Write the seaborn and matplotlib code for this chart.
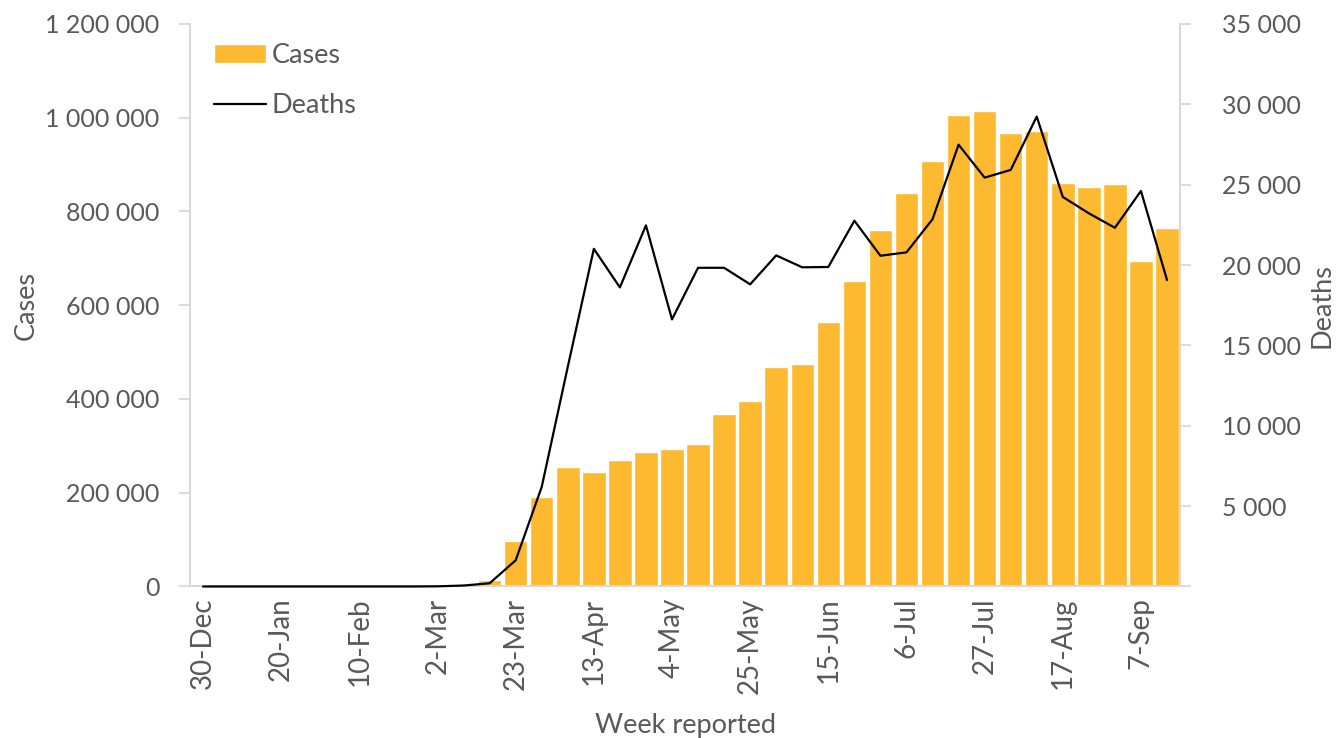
import matplotlib
matplotlib.use("Agg")
import matplotlib.pyplot as plt
import matplotlib.ticker as mticker
import numpy as np
import pandas as pd
import seaborn as sns

# weekly data, 30-Dec to 14-Sep
weeks = ["30-Dec", "6-Jan", "13-Jan", "20-Jan", "27-Jan", "3-Feb", "10-Feb", "17-Feb",
         "24-Feb", "2-Mar", "9-Mar", "16-Mar", "23-Mar", "30-Mar", "6-Apr", "13-Apr",
         "20-Apr", "27-Apr", "4-May", "11-May", "18-May", "25-May", "1-Jun", "8-Jun",
         "15-Jun", "22-Jun", "29-Jun", "6-Jul", "13-Jul", "20-Jul", "27-Jul", "3-Aug",
         "10-Aug", "17-Aug", "24-Aug", "31-Aug", "7-Sep", "14-Sep"]

cases = [0, 0, 0, 0, 0, 0, 0, 0,
         0, 0, 0, 13000, 97000, 190000, 254000, 244000,
         269000, 286000, 293000, 305000, 369000, 396000, 469000, 474000,
         564000, 651000, 761000, 839000, 908000, 1006000, 1014000, 968000,
         971000, 860000, 852000, 859000, 695000, 765000]

deaths = [0, 0, 0, 0, 0, 0, 0, 0,
          0, 10, 60, 200, 1630, 6200, 13670, 21010,
          18610, 22470, 16620, 19830, 19830, 18800, 20600, 19860,
          19880, 22760, 20580, 20790, 22850, 27490, 25440, 25920,
          29240, 24240, 23220, 22320, 24610, 19070]

df = pd.DataFrame({"week": weeks, "cases": cases, "deaths": deaths})
df["pos"] = np.arange(len(df))

sns.set_style("white")
plt.rcParams["font.family"] = ["Lato", "DejaVu Sans"]
txt = "#595959"
grey = "#D9D9D9"
fs = 18      # y tick labels
fs_x = 20    # x tick labels
fs_lab = 19.5

fig, ax = plt.subplots(figsize=(13.42, 7.38), dpi=100)
fig.subplots_adjust(left=0.1416, right=0.8793, bottom=0.2053, top=0.9675)

sns.barplot(ax=ax, data=df, x="pos", y="cases", color="#FDB92F", saturation=1,
            width=0.9, label="Cases")
ax2 = ax.twinx()
sns.lineplot(ax=ax2, data=df, x="pos", y="deaths", color="black", linewidth=1.6,
             label="Deaths", clip_on=False, zorder=5)

ax.set_xlim(-0.5, len(df) - 0.5)
ax.set_ylim(0, 1200000)
ax2.set_ylim(0, 35000)
ax.set_yticks(np.arange(0, 1200001, 200000))
ax2.set_yticks(np.arange(0, 35001, 5000))

sp = lambda v, p: format(int(v), ",").replace(",", " ")
ax.yaxis.set_major_formatter(mticker.FuncFormatter(sp))
ax2.yaxis.set_major_formatter(mticker.FuncFormatter(lambda v, p: "" if v == 0 else sp(v, p)))

ax.set_xticks(df["pos"][::3])
ax.set_xticklabels(df["week"][::3], rotation=90)

for a in (ax, ax2):
    for s in a.spines.values():
        s.set_color(grey)
        s.set_linewidth(1.3)
        s.set_zorder(1)
    a.spines["top"].set_visible(False)
ax.tick_params(axis="x", length=0, labelsize=fs_x, labelcolor=txt, pad=8)
ax.tick_params(axis="y", length=8, width=1.3, color=grey, labelsize=fs, labelcolor=txt, pad=14)
ax2.tick_params(axis="y", length=8, width=1.3, color=grey, labelsize=fs, labelcolor=txt, pad=22)

ax.set_xlabel("Week reported", fontsize=fs_lab, color=txt, labelpad=14)
ax.set_ylabel("Cases", fontsize=fs_lab, color=txt, labelpad=5)
ax2.set_ylabel("Deaths", fontsize=fs_lab, color=txt, labelpad=6)

h1, l1 = ax.get_legend_handles_labels()
h2, l2 = ax2.get_legend_handles_labels()
if ax.get_legend():
    ax.get_legend().remove()
leg = ax2.legend(h1 + h2, l1 + l2, loc="upper left", frameon=False, fontsize=fs_lab,
                 handlelength=1.9, labelspacing=0.95, handletextpad=0.2,
                 bbox_to_anchor=(0.0, 1.01))
for t in leg.get_texts():
    t.set_color(txt)

fig.savefig("out.png", dpi=100)
